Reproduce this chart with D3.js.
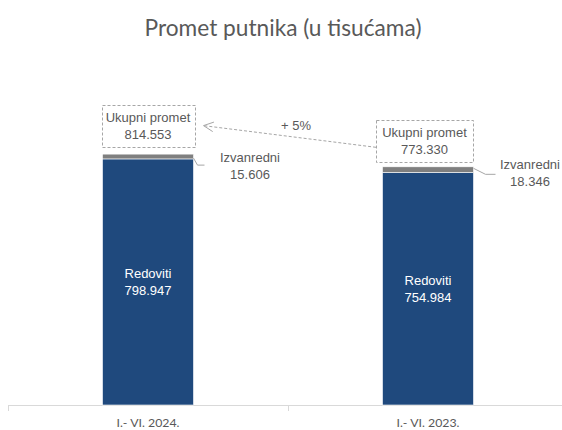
<!DOCTYPE html>
<html><head><meta charset="utf-8">
<script src="https://cdn.jsdelivr.net/npm/d3@7"></script>
<style>body{margin:0;background:#fff;} svg{display:block;}</style>
</head><body>
<svg id="c" width="562" height="430"></svg>
<script>
const title = "Promet putnika (u tisućama)";
const categories = ["I.- VI. 2024.", "I.- VI. 2023."];
const redoviti = [798.947, 754.984];
const izvanredni = [15.606, 18.346];
const ukupno = [814.553, 773.330];
const labelRed = "Redoviti";
const labelIzv = "Izvanredni";
const labelTot = "Ukupni promet";
const changeLabel = "+ 5%";

const fmt = v => d3.format(".3f")(v);
const svg = d3.select("#c");
const x = d3.scaleBand().domain(categories).range([8, 568]).padding(0);
const y = d3.scaleLinear().domain([0, 1000]).range([405, 97]);
const bw = x.bandwidth() * 0.325;
const cx = c => x(c) + x.bandwidth() / 2;
const textCol = "#595959";
const labFont = "'Liberation Sans', Arial, sans-serif";

// title
const t = svg.append("text").attr("x", 283).attr("y", 36).attr("text-anchor", "middle")
  .attr("font-family", "Lato, 'Open Sans', sans-serif").attr("font-size", 22).attr("fill", textCol).text(title);
const tl = t.node().getComputedTextLength();
t.attr("font-size", 22 * 277 / tl);

// axis
const axis = svg.append("g").attr("transform", "translate(0,405)")
  .call(d3.axisBottom(x).tickSize(0).tickPadding(0));
axis.select(".domain").remove();
axis.selectAll(".tick text").remove();
svg.append("line").attr("x1", 8).attr("x2", 568).attr("y1", 405.5).attr("y2", 405.5).attr("stroke", "#d9d9d9");
[8, 288].forEach(v => svg.append("line").attr("x1", v + 0.5).attr("x2", v + 0.5).attr("y1", 405).attr("y2", 411).attr("stroke", "#d9d9d9"));
categories.forEach(c => {
  const tx = svg.append("text").attr("x", cx(c)).attr("y", 427).attr("text-anchor", "middle")
    .attr("font-family", "Lato, sans-serif").attr("font-size", 14).attr("fill", textCol).text(c);
  const l = tx.node().getComputedTextLength();
  tx.attr("font-size", 14 * 63 / l);
});

// bars
categories.forEach((c, i) => {
  const x0 = cx(c) - bw / 2;
  svg.append("rect").attr("x", x0).attr("width", bw).attr("y", y(redoviti[i])).attr("height", y(0) - y(redoviti[i]))
    .attr("fill", "#1F497D").attr("stroke", "#fff").attr("stroke-width", 0.6);
  svg.append("rect").attr("x", x0).attr("width", bw).attr("y", y(ukupno[i])).attr("height", y(redoviti[i]) - y(ukupno[i]))
    .attr("fill", "#7F7F7F").attr("stroke", "#fff").attr("stroke-width", 0.6);
  const my = (y(redoviti[i]) + y(0)) / 2;
  svg.append("text").attr("x", cx(c)).attr("y", my - 4).attr("text-anchor", "middle").attr("font-family", labFont)
    .attr("font-size", 13).attr("fill", "#fff").text(labelRed);
  svg.append("text").attr("x", cx(c)).attr("y", my + 13).attr("text-anchor", "middle").attr("font-family", labFont)
    .attr("font-size", 13).attr("fill", "#fff").text(fmt(redoviti[i]));
});

// izvanredni labels with leaders
const izvPos = [{lx: 250, ly: 162}, {lx: 530, ly: 169}];
categories.forEach((c, i) => {
  const p = izvPos[i];
  const x1 = cx(c) + bw / 2;
  const top = y(ukupno[i]);
  const pts = i === 0 ? [[x1, top + 4], [x1 + 4, top + 11], [x1 + 11, top + 11]]
                      : [[x1, top + 1.5], [x1 + 12, top + 7.5], [x1 + 22, top + 7.5]];
  svg.append("path").attr("d", d3.line()(pts)).attr("fill", "none").attr("stroke", "#a6a6a6").attr("stroke-width", 1);
  svg.append("text").attr("x", p.lx).attr("y", p.ly).attr("text-anchor", "middle").attr("font-family", labFont)
    .attr("font-size", 13).attr("fill", textCol).text(labelIzv);
  svg.append("text").attr("x", p.lx).attr("y", p.ly + 17).attr("text-anchor", "middle").attr("font-family", labFont)
    .attr("font-size", 13).attr("fill", textCol).text(fmt(izvanredni[i]));
});

// total boxes
const boxes = [];
categories.forEach((c, i) => {
  const bwid = i === 0 ? 93 : 97;
  const bcx = i === 0 ? cx(c) : cx(c) - 3.5;
  const bottom = y(ukupno[i]) - (i === 0 ? 7 : 4.5);
  const top = bottom - 42.5;
  boxes.push({l: bcx - bwid / 2, r: bcx + bwid / 2, t: top, b: bottom});
  svg.append("rect").attr("x", Math.round(bcx - bwid / 2) + 0.5).attr("y", Math.round(top) + 0.5).attr("width", bwid).attr("height", 42)
    .attr("fill", "#fff").attr("stroke", "#a6a6a6").attr("stroke-dasharray", "3,2").attr("stroke-width", 1);
  svg.append("text").attr("x", bcx).attr("y", top + 17.5).attr("text-anchor", "middle").attr("font-family", labFont)
    .attr("font-size", 13).attr("fill", textCol).text(labelTot);
  svg.append("text").attr("x", bcx).attr("y", top + 34.5).attr("text-anchor", "middle").attr("font-family", labFont)
    .attr("font-size", 13).attr("fill", textCol).text(fmt(ukupno[i]));
});

// arrow
const a0 = [boxes[1].l, boxes[1].b - 15];
const a1 = [boxes[0].r + 9, boxes[0].t + 21];
svg.append("line").attr("x1", a0[0]).attr("y1", a0[1]).attr("x2", a1[0]).attr("y2", a1[1])
  .attr("stroke", "#a6a6a6").attr("stroke-dasharray", "3,2").attr("stroke-width", 1);
const ang = Math.atan2(a0[1] - a1[1], a0[0] - a1[0]);
const hl = 11, ha = 0.45;
const head = [[a1[0] + hl * Math.cos(ang + ha), a1[1] + hl * Math.sin(ang + ha)], a1,
              [a1[0] + hl * Math.cos(ang - ha), a1[1] + hl * Math.sin(ang - ha)]];
svg.append("path").attr("d", d3.line()(head)).attr("fill", "none").attr("stroke", "#a6a6a6").attr("stroke-width", 1);
svg.append("text").attr("x", 296).attr("y", 130).attr("text-anchor", "middle").attr("font-family", labFont)
  .attr("font-size", 13).attr("fill", textCol).text(changeLabel);
</script>
</body></html>
